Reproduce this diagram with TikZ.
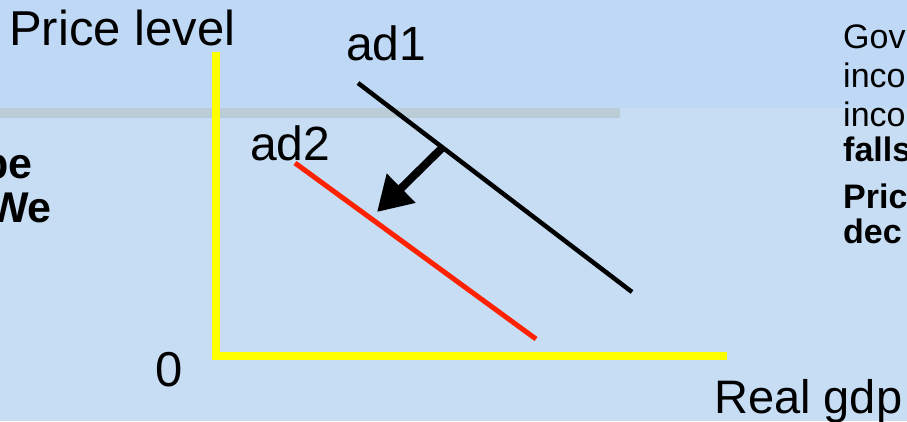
\documentclass[tikz,border=0pt]{standalone}
\usepackage{fontspec}
\setmainfont{Liberation Sans}
\usetikzlibrary{arrows.meta}
\definecolor{slidetop}{RGB}{190,216,246}
\definecolor{slidebot}{RGB}{198,221,244}
\definecolor{bandgray}{RGB}{186,205,214}
\definecolor{axisyellow}{RGB}{255,255,0}
\definecolor{adred}{RGB}{255,34,0}

\begin{document}
\begin{tikzpicture}[x=1pt,y=-1pt,every node/.style={inner sep=0pt,anchor=base west},
  big/.style={font=\fontsize{49}{58}\selectfont},
  side/.style={font=\fontsize{34}{40}\selectfont},
  sidebold/.style={font=\fontsize{34}{40}\selectfont\bfseries},
  leftbold/.style={font=\fontsize{43}{52}\selectfont\bfseries,anchor=base east}]
  % slide background
  \fill[slidebot] (0,0) rectangle (907,421);
  \fill[slidetop] (0,0) rectangle (907,108);
  \fill[bandgray] (0,108) rectangle (620,118);
  \useasboundingbox (0,0) rectangle (907,421);
  % axes
  \coordinate (ytop) at (216,52);
  \coordinate (origin) at (216,355.5);
  \coordinate (xend) at (727,355.5);
  \draw[axisyellow,line width=8pt] (ytop) -- (origin) -- (xend);
  \node[big] (ylabel) at (9,45) {Price level};
  \node[big,anchor=base] (zero) at (169,386) {0};
  \node[big,font=\fontsize{47}{56}\selectfont] (xlabel) at (714,413) {Real gdp};
  % demand curves
  \coordinate (adA) at (358,83);
  \coordinate (adB) at (632,292);
  \coordinate (adC) at (295,163);
  \coordinate (adD) at (536,339);
  \draw[black,line width=4.5pt] (adA) -- (adB);
  \draw[adred,line width=5pt] (adC) -- (adD);
  \node[big,font=\fontsize{48}{56}\selectfont] (adonelbl) at (346,60) {ad1};
  \node[big,font=\fontsize{48}{56}\selectfont] (adtwolbl) at (250,160) {ad2};
  % shift of demand
  \coordinate (shiftfrom) at (443,147);
  \coordinate (shiftto) at (377,212);
  \draw[line width=8pt,-{Triangle[length=34pt,width=39pt]}] (shiftfrom) -- (shiftto);
  % cut-off slide text, left
  \node[leftbold] (lefta) at (33,178) {be};
  \node[leftbold] (leftb) at (52,222) {We};
  % cut-off slide text, right
  \node[side] (righta) at (843,48) {Gov};
  \node[side] (rightb) at (843,87) {inco};
  \node[side] (rightc) at (843,126) {inco};
  \node[sidebold] (rightd) at (843,161) {falls};
  \node[sidebold] (righte) at (843,208) {Pric};
  \node[sidebold] (rightf) at (843,243) {dec};
\end{tikzpicture}
\end{document}
